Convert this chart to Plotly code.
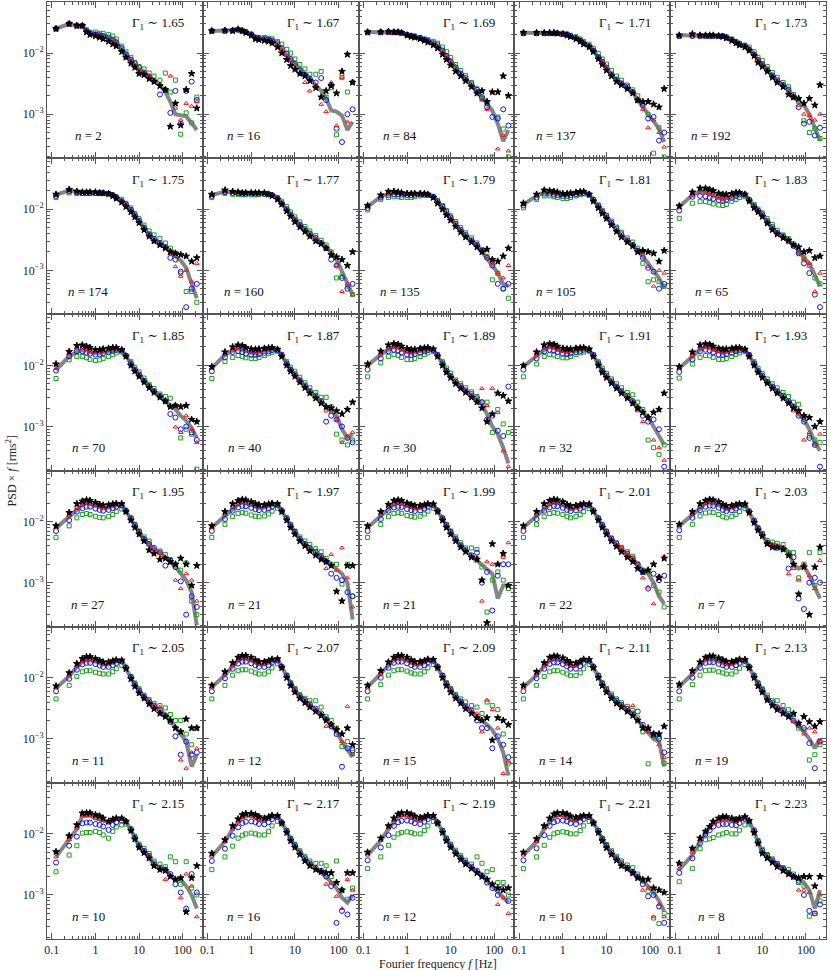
import numpy as np
import plotly.graph_objects as go
from plotly.subplots import make_subplots

# ---------------------------------------------------------------------------
# Data (PSD x f in units of 1e-3 rms^2), one row per panel, read left->right,
# top->bottom
# ---------------------------------------------------------------------------
FREQ = [0.125, 0.25, 0.375, 0.5, 0.625, 0.75, 1.0, 1.25, 1.5, 2.0, 2.5, 3.0, 4.0, 5.0,
        6.5, 8.0, 10, 13, 17, 22, 30, 40, 52, 68, 90, 120, 160, 210]

GAMMA = [1.65, 1.67, 1.69, 1.71, 1.73, 1.75, 1.77, 1.79, 1.81, 1.83,
         1.85, 1.87, 1.89, 1.91, 1.93, 1.95, 1.97, 1.99, 2.01, 2.03,
         2.05, 2.07, 2.09, 2.11, 2.13, 2.15, 2.17, 2.19, 2.21, 2.23]

N_OBS = [2, 16, 84, 137, 192, 174, 160, 135, 105, 65,
         70, 40, 30, 32, 27, 27, 21, 21, 22, 7,
         11, 12, 15, 14, 19, 10, 16, 12, 10, 8]

# grey line (average PSD)
GRAY = [
    [25, 30, 28, 28, 23, 21, 21, 20, 19, 18.5, 17, 15, 11.5, 9.2, 7.2, 6.3, 5.4, 4.7, 4.0, 3.5, 3.0, 2.3, 1.6, 1.0, 0.95, 0.92, 0.72, 0.55],
    [23, 23, 23.5, 24, 23, 22, 20, 17.6, 17, 17, 16.5, 16, 14, 11.5, 9.4, 7.6, 6.6, 5.6, 4.6, 3.8, 3.0, 2.4, 1.8, 1.15, 1.1, 0.95, 0.55, 0.75],
    [22, 22, 22, 22, 22, 21.5, 20, 19, 18.5, 17.5, 16.5, 15.5, 14, 13, 11, 9, 7.2, 5.6, 4.5, 3.8, 3.0, 2.4, 1.9, 1.5, 1.15, 0.7, 0.36, 0.55],
    [21.5, 21.5, 21.5, 21.5, 21.5, 21.5, 21, 20, 19, 17.5, 16, 14.5, 13, 11, 8.5, 7, 5.6, 4.4, 3.6, 3.1, 2.7, 2.3, 1.7, 1.3, 1.0, 0.78, 0.58, 0.35],
    [19.5, 19.5, 19.5, 19.5, 19.5, 19.5, 19.5, 19, 18, 16.5, 15, 14, 13, 11.5, 9.5, 7.5, 6.5, 5.3, 4.2, 3.5, 3.0, 2.5, 1.9, 1.6, 1.4, 1.0, 0.6, 0.37],
    [17.2, 20.3, 19.5, 19, 19, 19, 19, 19, 18.8, 18.3, 17, 15.5, 13.5, 11.8, 9.5, 7.8, 6.3, 4.8, 3.8, 3.2, 2.7, 2.4, 2.1, 1.7, 1.45, 1.1, 0.6, 0.35],
    [17, 19.5, 19, 18.8, 18.5, 18.5, 18.5, 18.5, 18.5, 18.5, 18, 17, 15, 12.5, 9.8, 8, 6.6, 5.5, 4.6, 3.9, 3.3, 2.8, 2.4, 2.0, 1.5, 0.95, 0.6, 0.4],
    [11, 16, 18, 18.5, 18.5, 18.3, 18, 18, 18, 18, 18, 17.5, 16, 13, 10.5, 8.5, 7, 5.5, 4.4, 3.6, 3.0, 2.5, 2.0, 1.6, 1.2, 0.9, 0.6, 0.55],
    [12, 16.5, 19, 19, 18.5, 18, 17.5, 17.5, 17.8, 18.3, 18.8, 19, 17.5, 14, 11, 9, 7.5, 5.8, 4.5, 3.7, 3.0, 2.6, 2.1, 1.7, 1.3, 1.0, 0.75, 0.5],
    [11, 17, 19.5, 19.5, 18, 17, 15.5, 15, 15.3, 16, 17, 18, 17.5, 14, 11, 9.2, 8, 6.2, 4.8, 4.1, 3.6, 3.0, 2.6, 2.1, 1.6, 1.3, 0.85, 0.55],
    [8.4, 14, 16.5, 17.8, 17.5, 16.5, 15.8, 16, 16.5, 17, 17.5, 18, 17.5, 14.5, 10.5, 8.3, 7.0, 5.5, 4.5, 3.7, 3.1, 2.6, 2.2, 1.9, 1.5, 1.25, 0.95, 0.65],
    [9, 14.8, 17.5, 18.5, 18, 17, 16, 15.8, 16.3, 17, 17.8, 18.3, 18, 14.5, 10.5, 8.3, 7.0, 5.6, 4.6, 3.7, 3.1, 2.6, 2.2, 1.8, 1.5, 0.9, 0.65, 0.75],
    [10, 15, 18, 20, 19.5, 18, 16.5, 16, 16.5, 17, 17.8, 18.3, 18, 14.5, 10.5, 8, 6.5, 5.2, 4.4, 3.8, 3.2, 2.6, 2.3, 1.6, 1.0, 0.75, 0.45, 0.25],
    [9.5, 14, 18, 20, 19.5, 18, 17, 16.5, 17, 17.5, 18, 18.5, 18, 14.5, 10.5, 8, 6.6, 5.3, 4.4, 3.7, 3.1, 2.6, 2.1, 1.7, 1.4, 1.0, 0.7, 0.5],
    [9, 14, 18, 20, 19.5, 18, 16.5, 16, 16.5, 17, 17.8, 18.3, 18, 14.5, 10.5, 8, 6.6, 5.3, 4.4, 3.7, 3.1, 2.6, 2.1, 1.6, 1.3, 0.9, 0.55, 0.4],
    [7.8, 12, 16, 18.5, 20, 19.5, 18, 17, 16.5, 17, 17.8, 18.5, 18.7, 15, 11, 8.5, 6.6, 5.0, 4.2, 3.6, 3.1, 2.6, 2.2, 1.8, 1.4, 1.1, 0.7, 0.2],
    [8, 12.5, 16.5, 19, 20.5, 20, 18.5, 17.5, 16.8, 17, 17.8, 18.7, 19, 15, 11, 8.5, 6.6, 5.0, 4.2, 3.6, 3.1, 2.7, 2.3, 2.0, 1.7, 1.4, 1.0, 0.25],
    [8, 12.5, 16.5, 19, 20, 19.5, 18, 17, 16.3, 16.5, 17.5, 18.5, 19, 15, 11, 8.5, 6.6, 5.0, 4.0, 3.3, 2.7, 2.3, 1.95, 1.6, 1.4, 0.55, 0.9, 0.9],
    [8, 12.5, 16.5, 19, 20.5, 20, 18.5, 17, 16, 16.5, 17.5, 18.5, 19, 15, 11, 8.5, 6.6, 5.0, 4.1, 3.4, 2.8, 2.4, 2.0, 1.6, 1.4, 1.0, 0.6, 0.45],
    [8.5, 13, 17, 19.5, 20.5, 20, 18.5, 17, 16, 16.5, 17.5, 18.5, 19, 14.5, 10, 7.5, 6.0, 4.5, 4.2, 4.0, 3.8, 3.2, 2.0, 1.7, 1.9, 1.3, 0.8, 0.55],
    [6.7, 10.6, 15, 18, 19.5, 19.5, 18.5, 17.5, 16.5, 16.5, 17.5, 18.5, 19, 14.5, 10, 7.6, 6.0, 4.8, 4.0, 3.4, 2.9, 2.5, 2.0, 1.6, 1.2, 0.9, 0.35, 0.55],
    [7, 11, 15.5, 19, 20.5, 20.5, 19, 17.5, 16.5, 16.5, 17.5, 19, 20, 15, 10.5, 7.8, 6.2, 4.9, 4.2, 3.6, 3.0, 2.5, 2.1, 1.7, 1.3, 0.9, 0.65, 0.5],
    [7, 11.5, 16, 19.5, 20.5, 20.5, 19, 17.5, 16.5, 16.5, 17.5, 19, 19.5, 15, 10.5, 7.8, 6.2, 4.9, 4.0, 3.3, 2.8, 2.3, 2.0, 1.7, 1.4, 1.0, 0.6, 0.25],
    [7, 11, 15.5, 19, 20, 20, 18.5, 17, 15.5, 15.5, 17, 19, 19.5, 15, 10.5, 7.8, 6.2, 4.9, 4.1, 3.5, 3.0, 2.5, 2.0, 1.6, 1.2, 1.0, 0.9, 0.35],
    [7.2, 11.5, 16, 19.5, 20, 20, 18.5, 17.5, 16.5, 16.5, 17.5, 19, 19.5, 15, 10.5, 7.7, 6.1, 4.5, 3.7, 3.2, 2.8, 2.4, 2.0, 1.6, 1.3, 1.0, 0.7, 1.0],
    [4.2, 8, 12, 19.5, 20, 20, 18, 17, 16.5, 15.5, 16.5, 17.5, 18, 16, 11.6, 8.5, 6.2, 5.1, 4.2, 3.1, 2.7, 2.6, 2.1, 1.8, 1.8, 1.4, 1.0, 0.6],
    [4.3, 7.5, 12, 16, 19, 20, 20, 18.5, 17, 16.5, 17.5, 19, 19.5, 15.5, 11, 8, 6.3, 4.8, 3.8, 3.2, 2.7, 2.4, 2.0, 1.6, 1.3, 0.9, 0.75, 1.0],
    [4.5, 7.8, 12, 16, 19, 20, 20, 18.5, 17, 16.5, 17.5, 19, 19.5, 15.5, 11, 8, 6.3, 4.9, 4.0, 3.3, 2.8, 2.4, 2.1, 1.7, 1.4, 1.1, 0.9, 0.75],
    [4.5, 7.5, 12, 16, 19, 20, 20, 18.5, 17, 16.5, 17.5, 19, 19.5, 15.5, 11, 8, 6.2, 4.8, 3.9, 3.2, 2.7, 2.3, 2.0, 1.7, 1.4, 1.1, 0.8, 0.55],
    [2.6, 4.5, 7.5, 10.5, 13, 15, 17, 17.5, 17.5, 16.5, 16, 17, 18, 16, 11, 7.2, 5.0, 4.2, 3.6, 3.1, 2.6, 2.3, 2.0, 1.8, 1.6, 1.2, 0.6, 1.2],
]

# black stars
BLACK = [
    [25, 30, 28, 28, 22, 20, 19, 18, 17, 15.5, 14, 13, 10.5, 8.5, 6.8, 5.8, 4.6, 4.4, 3.8, 3.4, 2.9, 2.5, 0.63, 1.5, 0.66, 2.5, 4.6, 1.25],
    [23, 23.5, 23, 24.5, 23, 21.5, 19.5, 17, 16.5, 16, 15.5, 14.5, 12.5, 10, 7.8, 6.2, 5.4, 4.6, 4.2, 3.5, 2.7, 1.9, 2.4, 2.9, 2.2, 5.0, 9.5, 3.3],
    [22, 22, 22.5, 22, 22, 21.5, 19.5, 18.5, 18, 17, 16, 15, 13.5, 12, 9.5, 7.8, 6.3, 5, 4.2, 3.5, 2.8, 2.2, 2.4, 1.6, 2.3, 2.3, 4.2, 2.0],
    [21.5, 21.5, 21.5, 21.5, 21.5, 21, 20.5, 19.5, 18.5, 17, 15.5, 14, 12.5, 10.5, 8, 6.5, 5.2, 4.2, 3.4, 3.0, 2.6, 2.2, 1.7, 1.6, 1.6, 1.45, 1.3, 2.6],
    [19.5, 20.5, 19.5, 19.5, 19.5, 19.5, 19, 18.5, 17.5, 16, 14.5, 13.5, 12.5, 11, 9, 7, 6, 5, 4, 3.3, 2.8, 2.1, 1.9, 1.8, 1.5, 1.8, 1.4, 3.0],
    [17.5, 21, 19.5, 19, 19, 19, 19, 18.5, 18.3, 17.8, 16.5, 15, 13, 11, 9, 7.4, 6, 4.6, 3.6, 3.0, 2.6, 2.3, 2.0, 1.9, 1.8, 1.7, 1.4, 1.6],
    [17.5, 20.5, 19.5, 19, 18.5, 18.5, 18.5, 18.5, 18.5, 18.5, 17.5, 16.5, 14.5, 12, 9.3, 7.6, 6.2, 5.1, 4.3, 3.6, 3.0, 2.7, 2.3, 1.8, 1.65, 1.5, 1.2, 2.0],
    [11.5, 17, 19.5, 19.5, 19, 18.5, 18, 18, 18, 18, 18, 17.5, 15.5, 12.5, 10, 8, 6.6, 5.2, 4.2, 3.5, 2.9, 2.4, 2.0, 2.2, 1.5, 1.4, 1.7, 2.3],
    [12.5, 17.5, 20.5, 20, 19.5, 19, 18, 18, 18.3, 18.8, 19.3, 19.5, 17.5, 13.5, 10.5, 8.5, 7, 5.5, 4.3, 3.5, 2.9, 2.5, 2.0, 2.1, 2.0, 1.9, 1.4, 2.1],
    [11.3, 19, 22, 22, 21, 20, 18.2, 17.5, 17.5, 18, 18.6, 18.8, 17.5, 13.5, 10.5, 9, 7.6, 5.9, 4.6, 3.9, 3.4, 3.1, 2.6, 2.4, 2.0, 2.1, 1.6, 1.7],
    [10.5, 16.8, 21, 21.5, 20.5, 19.5, 18, 18, 18.5, 19, 19.5, 19.5, 18, 14, 10, 8, 6.6, 5.3, 4.3, 3.6, 3.0, 2.6, 2.1, 2.2, 2.1, 2.2, 1.3, 1.2],
    [9.5, 16.5, 20, 21.5, 21, 19.5, 18.5, 18.3, 18.5, 19, 19.3, 19.5, 18.3, 14, 10, 8, 6.6, 5.3, 4.3, 3.5, 2.9, 2.4, 2.1, 2.0, 1.8, 1.6, 1.9, 2.5],
    [10.5, 17, 21.5, 22.5, 22, 20.5, 18.8, 18.2, 18.3, 18.8, 19.3, 19.5, 18.5, 14, 10, 7.7, 6.3, 5, 4.2, 3.6, 3.0, 2.5, 2.0, 1.2, 1.6, 3.5, 3.2, 2.6],
    [10, 16.5, 21.5, 22.5, 22, 20.5, 19, 18.5, 18.5, 19, 19.3, 19.5, 18.5, 14, 10, 7.7, 6.3, 5.1, 4.2, 3.5, 2.9, 2.4, 2.0, 1.7, 1.4, 1.7, 1.9, 3.5],
    [9.5, 16.5, 21.5, 22.5, 22, 20.5, 19, 18.3, 18.5, 19, 19.3, 19.5, 18.3, 14, 10, 7.7, 6.3, 5.1, 4.2, 3.5, 2.9, 2.4, 2.0, 1.8, 1.5, 1.4, 1.0, 1.2],
    [8.5, 14, 19.5, 21.5, 22.5, 22, 20.5, 19, 18.5, 18.7, 19.3, 19.7, 19.5, 14.5, 10.5, 8, 6.2, 4.8, 3.4, 3.0, 2.4, 2.5, 2.2, 2.0, 2.5, 2.0, 0.9, 1.9],
    [8.5, 14.5, 19.5, 22, 23, 22.5, 21, 19.5, 18.8, 18.8, 19.3, 19.8, 19.5, 14.5, 10.5, 8, 6.2, 4.8, 4.0, 3.3, 2.8, 2.4, 2.2, 1.9, 0.72, 0.5, 1.9, 1.9],
    [8.5, 14.5, 19, 22, 22.5, 22, 20, 19, 18.3, 18.3, 18.8, 19.5, 19.3, 14.5, 10.5, 8, 6.2, 4.8, 3.8, 3.2, 2.6, 2.4, 1.1, 0.22, 4.3, 2.0, 3.0, 0.9],
    [8.5, 14.5, 19.5, 22, 23, 22.5, 21, 19, 18, 18.3, 18.8, 19.5, 19.3, 14.5, 10.5, 8, 6.2, 4.8, 3.9, 3.2, 2.6, 2.2, 1.7, 1.5, 1.6, 2.0, 1.2, 2.5],
    [9, 14.5, 19.5, 22, 23, 22.5, 21, 19, 18, 18.3, 18.8, 19.5, 19.3, 14, 9.6, 7.2, 5.8, 4.3, 3.8, 3.8, 3.5, 2.8, 2.0, 0.65, 1.8, 0.3, 1.8, 3.8],
    [7.3, 12, 17, 20.5, 22, 22, 20.5, 19, 18, 18, 18.8, 19.5, 19.3, 14, 9.6, 7.2, 5.6, 4.6, 3.7, 3.1, 2.6, 2.3, 2.0, 1.5, 1.3, 2.1, 1.5, 1.5],
    [7.5, 12.5, 17.5, 21.5, 23, 23, 21.5, 19.5, 18.3, 18.3, 19, 20, 20.3, 14.5, 10, 7.4, 5.8, 4.6, 3.9, 3.3, 2.8, 2.4, 2.0, 1.7, 1.4, 1.2, 1.5, 0.8],
    [7.5, 13, 18, 21.5, 23, 23, 21.5, 19.5, 18.3, 18.3, 19, 20, 19.8, 14.5, 10, 7.4, 5.8, 4.6, 3.8, 3.1, 2.6, 2.2, 2.0, 2.2, 0.95, 2.2, 2.0, 1.7],
    [7.5, 12.5, 17.5, 21.5, 22.5, 22.5, 21, 19, 17.5, 17.3, 18.5, 20, 19.8, 14.5, 10, 7.4, 5.8, 4.6, 3.8, 3.3, 2.8, 2.4, 2.0, 1.5, 1.5, 1.2, 1.2, 1.6],
    [7.8, 13, 18, 21.5, 22.5, 22.5, 21, 19.5, 18.5, 18.3, 19, 20, 19.8, 14.5, 10, 7.3, 5.8, 4.3, 3.5, 3.0, 2.6, 2.3, 2.6, 1.8, 2.3, 1.9, 1.6, 1.9],
    [5.1, 9.3, 14, 21.8, 22, 22, 20.5, 19.5, 18, 16, 17.3, 18, 18, 16, 11.3, 8.2, 6.0, 4.9, 4.0, 3.0, 2.6, 2.5, 2.0, 1.8, 1.9, 0.53, 1.9, 3.0],
    [4.8, 8, 13.5, 17.5, 20.5, 21.5, 21.5, 20.5, 19, 18, 18.8, 20, 19.8, 15, 10.5, 7.7, 6.0, 4.6, 3.6, 3.0, 2.6, 2.4, 2.3, 2.3, 1.6, 1.2, 2.3, 2.3],
    [5, 8.5, 13.5, 18, 21, 22, 22, 21, 19.5, 18.5, 19, 20, 19.8, 15, 10.5, 7.7, 6.0, 4.7, 3.8, 3.2, 2.7, 2.3, 2.0, 1.8, 1.5, 1.3, 1.2, 1.3],
    [5, 8.3, 13.5, 18, 21, 22, 22, 21, 19.5, 18.5, 19, 20, 19.8, 15, 10.5, 7.7, 5.9, 4.6, 3.7, 3.0, 2.7, 2.3, 1.9, 1.8, 1.8, 1.3, 1.2, 1.1],
    [3.3, 5.8, 8.5, 11, 13.2, 16, 18, 19, 19, 18, 17, 18, 19, 16.5, 10.5, 7.0, 4.8, 4.0, 3.4, 2.9, 2.5, 2.2, 2.0, 1.9, 2.0, 2.0, 1.4, 2.0],
]

# red triangles
RED = [
    [25, 30, 28, 27, 23, 21, 20, 19, 18, 17, 16, 14.5, 11, 8.5, 7.5, 6.4, 5.2, 4.8, 4.3, 3.6, 3.1, 2.4, 4.2, 1.25, 0.8, 1.5, 1.35, 1.6],
    [23, 23, 23.5, 24, 23, 22, 20, 17, 17.5, 17, 16.5, 15.5, 14, 11.5, 9, 7.5, 6.4, 4.6, 3.3, 2.4, 3.0, 1.45, 1.1, 3.3, 0.65, 4.0, 0.75, 3.5],
    [22, 22, 22, 22, 22, 21.5, 20, 19, 18.5, 17.5, 16.5, 15.5, 14, 13, 10.5, 9, 7.2, 5.6, 4.4, 3.6, 2.9, 2.3, 1.7, 1.2, 2.3, 0.27, 0.45, 0.25],
    [21.5, 21.5, 21.5, 21.5, 21.5, 21.5, 21, 20, 19, 17.5, 16, 14.5, 13, 11, 8.5, 7.2, 5.7, 4.5, 3.7, 3.1, 2.6, 2.2, 1.6, 1.2, 0.6, 0.8, 0.5, 0.29],
    [19.5, 19.5, 19.5, 19.5, 19.5, 19.5, 19.5, 19, 18, 16.5, 15, 14, 13, 11.5, 9.5, 7.6, 6.5, 5.3, 4.2, 3.4, 2.9, 2.4, 1.8, 1.4, 1.0, 0.95, 0.8, 1.0],
    [17, 20, 19.5, 19, 19, 19, 19, 19, 18.8, 18.3, 17, 15.5, 13.5, 11.8, 9.5, 7.8, 6.3, 4.8, 3.7, 3.0, 2.6, 2.3, 1.9, 1.15, 0.8, 1.0, 0.65, 1.3],
    [17, 19.5, 19, 18.8, 18.5, 18.5, 18.5, 18.5, 18.5, 18.5, 18, 17, 15, 12.5, 9.8, 8, 6.6, 5.5, 4.6, 3.8, 3.2, 2.7, 2.3, 1.7, 1.2, 0.45, 0.6, 0.4],
    [11, 16, 18, 18.5, 18.3, 18, 17.8, 17.8, 17.8, 18, 18, 17.5, 16, 13, 10.5, 8.5, 7, 5.6, 4.5, 3.6, 3.0, 2.6, 2.1, 1.7, 1.3, 0.9, 0.75, 1.2],
    [12, 16.5, 19, 19, 18.5, 18, 17.5, 17.5, 17.8, 18.3, 18.8, 19, 17.5, 14, 11, 9, 7.5, 5.8, 4.6, 3.7, 3.0, 2.5, 2.0, 1.8, 1.15, 0.55, 1.0, 0.9],
    [10.5, 17, 18.5, 18.5, 17.5, 16.5, 15.1, 14.5, 15, 16, 17.5, 18.3, 17.5, 14, 11, 9.2, 8, 6.2, 4.9, 4.0, 3.5, 2.9, 2.5, 1.9, 1.5, 1.3, 0.45, 0.9],
    [8.9, 15.8, 19, 19, 18, 17, 16.3, 16.5, 17, 17.5, 18, 18.5, 17.8, 14.5, 10.5, 8.3, 7.0, 5.5, 4.5, 3.7, 3.1, 2.6, 2.1, 0.98, 0.8, 1.5, 0.9, 0.55],
    [9, 15, 18, 19.5, 19, 17.5, 16.5, 16.3, 16.8, 17.5, 18.3, 18.8, 18, 14.5, 10.5, 8.3, 7.0, 5.6, 4.6, 3.7, 3.0, 2.5, 1.8, 1.7, 1.3, 0.55, 0.7, 0.8],
    [10, 15.5, 19, 20, 19.5, 18, 16.8, 16.3, 16.8, 17.3, 18, 18.5, 18, 14.5, 10.5, 8, 6.5, 5.3, 4.5, 3.9, 3.3, 2.8, 4.2, 2.2, 4.2, 1.7, 0.4, 0.22],
    [9.5, 14.5, 19, 20, 19.5, 18, 17, 16.8, 17.2, 17.8, 18.3, 18.8, 18, 14.5, 10.5, 8, 6.6, 5.3, 4.4, 3.6, 3.0, 2.3, 1.8, 1.2, 1.5, 0.6, 0.45, 0.28],
    [9, 14.5, 19, 20, 19.5, 18, 16.8, 16.3, 16.8, 17.3, 18, 18.5, 18, 14.5, 10.5, 8, 6.6, 5.3, 4.4, 3.6, 3.0, 2.5, 1.8, 1.6, 0.6, 0.8, 0.5, 0.75],
    [8, 12.5, 17, 19.5, 20.5, 20, 18.5, 17.5, 17, 17.5, 18.3, 19, 19, 15, 11, 8.5, 6.6, 5.0, 4.2, 3.5, 3.0, 2.6, 2.1, 1.1, 0.8, 1.4, 1.1, 0.5],
    [8, 13, 17.5, 20, 21, 20.5, 19, 18, 17.5, 17.5, 18.3, 19, 19.3, 15, 11, 8.5, 6.6, 5.0, 4.1, 3.5, 2.9, 2.6, 1.7, 2.9, 1.6, 3.7, 1.2, 0.4],
    [8, 13, 17.5, 19.5, 20.5, 20, 18.5, 17.5, 16.8, 17, 18, 19, 19.2, 15, 11, 8.5, 6.6, 5.0, 4.0, 3.3, 2.6, 2.6, 0.5, 2.2, 2.0, 2.0, 2.6, 4.5],
    [8, 13, 17.5, 20, 21, 20.5, 19, 17.5, 16.5, 17, 18, 19, 19.2, 15, 11, 8.5, 6.6, 5.1, 4.2, 3.8, 3.0, 2.5, 2.0, 1.2, 0.85, 0.45, 1.3, 2.7],
    [8.5, 13.5, 17.5, 20, 21, 20.5, 19, 17.5, 16.5, 17, 18, 19, 19.2, 14.5, 10, 7.5, 6.0, 4.6, 4.3, 4.0, 3.8, 1.4, 1.7, 1.1, 2.0, 1.3, 0.8, 2.3],
    [7, 11, 15.5, 18.5, 20, 20, 19, 18, 17, 17, 18, 19, 19.2, 14.5, 10, 7.6, 6.0, 4.8, 4.0, 3.4, 3.3, 2.5, 2.0, 1.6, 0.45, 0.33, 0.6, 0.7],
    [7, 11.5, 16, 19.5, 21, 21, 19.5, 18, 17, 17, 18, 19.5, 20, 15, 10.5, 7.8, 6.2, 4.9, 4.2, 3.6, 3.0, 2.5, 1.6, 1.8, 1.5, 0.9, 3.4, 0.55],
    [7, 11.8, 16.5, 20, 21, 21, 19.5, 18, 17, 17, 18, 19.5, 19.7, 15, 10.5, 7.8, 6.2, 4.9, 4.1, 3.4, 2.8, 2.6, 1.3, 4.3, 3.0, 1.5, 0.27, 0.42],
    [7, 11.5, 16, 19.5, 20.5, 20.5, 19, 17.5, 16, 16, 17.5, 19.3, 19.7, 15, 10.5, 7.8, 6.2, 4.9, 4.1, 3.5, 3.2, 3.5, 2.0, 1.6, 1.3, 1.1, 0.8, 0.5],
    [7.2, 12, 16.5, 20, 20.5, 20.5, 19, 18, 17, 17, 18, 19.5, 19.7, 15, 10.5, 7.7, 6.1, 4.6, 3.8, 3.3, 2.8, 2.4, 1.9, 1.6, 1.2, 1.5, 1.3, 0.9],
    [4.2, 8, 12.4, 19.8, 20, 20, 18, 17.5, 16.5, 15, 16.5, 17.5, 17.5, 16, 11.6, 8.5, 6.2, 5.2, 4.3, 3.2, 2.7, 1.8, 2.1, 1.8, 0.9, 2.2, 1.4, 0.44],
    [4.3, 7.5, 12, 16, 18.5, 19.5, 19.5, 18.5, 17.3, 16.8, 17.8, 19.3, 19.7, 15.5, 11, 8, 6.3, 4.8, 3.8, 3.2, 2.7, 2.4, 1.5, 1.6, 0.95, 0.6, 1.8, 1.2],
    [4.5, 7.8, 12.5, 16.5, 19.5, 20, 20, 19, 17.5, 17, 18, 19.3, 19.7, 15.5, 11, 8, 6.3, 4.9, 4.0, 3.3, 2.8, 2.4, 2.0, 1.8, 1.5, 0.7, 0.9, 0.5],
    [4.5, 7.5, 12.5, 16.5, 19.5, 20, 20, 19, 17.5, 17, 18, 19.3, 19.7, 15.5, 11, 8, 6.2, 4.8, 3.9, 3.2, 2.7, 2.2, 1.9, 1.2, 1.3, 0.44, 0.7, 0.44],
    [2.7, 5.0, 8, 10.5, 12.5, 15, 16, 17, 17.5, 16.5, 16, 17, 18.5, 16.5, 11, 7.2, 5.1, 4.3, 3.6, 3.1, 2.6, 2.2, 1.9, 1.2, 1.2, 1.1, 0.48, 1.0],
]

# blue circles
BLUE = [
    [25, 30, 28, 28, 23, 21, 20, 19.5, 19, 18, 16.5, 15, 12, 9.5, 7.8, 6.8, 5.8, 4.8, 4.1, 3.5, 2.1, 2.5, 1.05, 2.4, 0.7, 2.4, 3.4, 1.7],
    [23, 23, 23.5, 24, 23, 22, 20, 18, 17.5, 17, 16.5, 16, 14.5, 12, 9.8, 8, 6.7, 5.2, 4.4, 3.8, 3.3, 3.9, 1.7, 3.0, 0.58, 0.35, 1.0, 1.2],
    [22, 22, 22, 22, 22, 21.5, 20, 19, 18.5, 17.5, 16.5, 16, 14.5, 13.5, 11, 9, 7.3, 5.8, 4.6, 3.9, 3.1, 2.5, 1.9, 1.3, 0.9, 0.85, 1.2, 0.65],
    [21, 21, 21, 21, 21, 21, 20.5, 20, 19, 17.5, 16, 14.5, 13, 11, 8.6, 7.2, 5.8, 4.5, 3.7, 3.2, 2.8, 2.3, 1.7, 1.4, 0.85, 0.9, 0.37, 0.5],
    [19, 19, 19, 19, 19, 19, 19, 19, 18, 16.5, 15, 14, 13, 11.5, 9.5, 7.7, 6.6, 5.4, 4.3, 3.6, 3.0, 2.5, 1.9, 1.3, 0.7, 0.75, 0.45, 0.6],
    [16.5, 19.5, 19, 18.5, 18.5, 18.5, 18.5, 18.5, 18.5, 18, 17, 15.5, 13.5, 12, 9.8, 8, 6.5, 5, 3.9, 3.3, 2.8, 2.4, 1.6, 1.5, 0.95, 0.25, 0.5, 0.6],
    [16.5, 19, 18.5, 18.3, 18, 18, 18, 18, 18, 18, 17.5, 17, 15, 12.5, 10, 8.2, 6.8, 5.6, 4.7, 4.0, 3.4, 2.8, 2.3, 1.5, 1.2, 0.75, 0.5, 0.6],
    [10.5, 15.5, 17, 17.5, 17.5, 17.3, 17, 17, 17.3, 17.5, 17.5, 17.2, 16, 13.5, 11, 9, 7.3, 5.8, 4.6, 3.8, 3.1, 2.6, 2.1, 1.6, 1.2, 0.6, 0.5, 0.6],
    [11.5, 15.5, 18, 18, 17.3, 17, 16.5, 16.5, 17, 17.5, 18.3, 18.5, 17.5, 14.3, 11.3, 9.2, 7.7, 6, 4.8, 3.9, 3.1, 2.6, 2.1, 1.6, 1.1, 0.95, 0.5, 0.6],
    [9.5, 16, 16.5, 16.2, 15.5, 14.8, 14.1, 13.8, 14.3, 15.3, 16.5, 17.5, 17.3, 14.3, 11.3, 9.5, 8.2, 6.4, 5.1, 4.1, 3.6, 3.0, 2.5, 1.9, 1.3, 0.9, 0.4, 0.25],
    [8.2, 14.1, 17, 17, 16.2, 15.5, 15, 15.2, 15.8, 16.5, 17.2, 17.8, 17.5, 14.5, 10.8, 8.5, 7.1, 5.6, 4.6, 3.8, 3.2, 2.6, 1.6, 1.4, 0.9, 1.0, 0.8, 0.6],
    [8, 13.5, 16.5, 17.2, 16.5, 15.5, 14.8, 14.8, 15.3, 16, 17, 17.8, 17.8, 14.8, 10.8, 8.5, 7.2, 5.7, 4.7, 3.8, 3.2, 2.6, 1.2, 1.5, 1.3, 1.0, 0.65, 0.55],
    [8.5, 13, 17, 18, 17.5, 16.3, 15, 14.8, 15.3, 16, 17, 17.8, 17.8, 14.8, 10.8, 8.2, 6.7, 5.4, 4.6, 3.9, 3.4, 2.9, 2.5, 1.3, 1.5, 0.85, 0.7, 4.5],
    [8.5, 13, 17, 18, 17.5, 16.5, 15.5, 15.3, 15.8, 16.5, 17.2, 18, 17.8, 14.8, 10.8, 8.2, 6.8, 5.5, 4.5, 3.8, 3.2, 2.6, 2.0, 1.5, 1.2, 1.3, 0.9, 0.22],
    [7.8, 12.5, 17, 18, 17.5, 16.3, 15, 14.8, 15.3, 16, 17, 17.8, 17.8, 14.8, 10.8, 8.2, 6.8, 5.4, 4.5, 3.8, 3.2, 2.6, 2.1, 1.5, 1.2, 0.65, 0.5, 0.22],
    [7, 10.5, 14.5, 16.5, 17.5, 17.5, 16.3, 15.5, 15, 15.5, 16.5, 17.5, 18.3, 15.2, 11.3, 8.7, 6.8, 5.2, 4.3, 3.7, 3.1, 1.9, 2.3, 1.8, 1.05, 0.3, 0.6, 0.4],
    [7, 11, 15, 17, 18, 17.8, 16.7, 15.8, 15.3, 15.5, 16.5, 17.5, 18.5, 15.3, 11.3, 8.7, 6.8, 5.2, 4.3, 3.7, 3.2, 2.7, 2.2, 1.4, 1.2, 1.1, 0.7, 0.6],
    [7, 11, 15, 17, 17.5, 17.3, 16, 15.3, 14.8, 15.2, 16.3, 17.5, 18.5, 15.3, 11.3, 8.7, 6.8, 5.2, 4.1, 3.4, 2.8, 3.1, 1.0, 1.5, 0.35, 1.3, 2.0, 2.0],
    [7, 11, 15, 17, 18, 17.8, 16.7, 15.5, 14.8, 15.3, 16.3, 17.5, 18.5, 15.3, 11.3, 8.7, 6.8, 5.2, 4.3, 3.6, 3.0, 2.5, 2.0, 1.5, 0.8, 1.4, 1.1, 1.3],
    [7.2, 11.5, 15.3, 17.5, 18.2, 18, 16.8, 15.5, 14.8, 15.3, 16.3, 17.5, 18.5, 14.8, 10.3, 7.7, 6.2, 4.5, 4.0, 3.7, 3.6, 1.7, 2.6, 0.55, 0.37, 1.0, 1.2, 1.0],
    [6, 9.6, 13.5, 16.5, 17.5, 17.5, 16.7, 15.8, 15, 15, 16, 17.3, 18.5, 14.8, 10.3, 7.8, 6.2, 4.9, 4.1, 3.5, 3.0, 2.4, 1.9, 1.1, 0.55, 0.9, 0.55, 0.6],
    [6, 9.8, 14, 17, 18.3, 18.3, 17.2, 16, 15, 15, 16, 17.8, 19.2, 15.3, 10.8, 8, 6.4, 5.0, 4.3, 3.7, 3.1, 2.6, 2.1, 1.6, 1.2, 0.35, 0.7, 0.65],
    [6, 10, 14.5, 17.5, 18.3, 18.3, 17.2, 16, 15, 15, 16, 17.8, 18.8, 15.3, 10.8, 8, 6.4, 5.0, 4.1, 3.4, 2.9, 2.0, 1.5, 1.5, 0.7, 1.1, 0.8, 0.5],
    [6, 9.8, 14, 16.8, 17.8, 17.8, 16.7, 15.3, 14, 14, 15.5, 17.5, 18.8, 15.3, 10.8, 8, 6.4, 5.0, 4.2, 3.6, 3.1, 2.6, 2.8, 1.7, 1.4, 1.2, 1.0, 0.6],
    [6, 10, 14.5, 17.5, 18, 18, 16.8, 16, 15, 15, 16, 17.5, 18.8, 15.3, 10.8, 8, 6.3, 4.7, 3.9, 3.3, 2.9, 2.4, 2.0, 1.7, 1.5, 0.85, 0.33, 0.9],
    [3.4, 6.4, 9, 14.9, 15.3, 15.3, 14.5, 14, 13.2, 11.6, 14, 15.5, 16.5, 16, 11.8, 8.7, 6.4, 5.3, 4.4, 3.3, 2.8, 2.6, 2.2, 1.5, 1.1, 0.6, 2.2, 1.1],
    [3.6, 5.7, 9.3, 12.8, 15, 15.8, 16, 15.5, 14.5, 14.3, 15.5, 17.5, 18.8, 15.5, 11.3, 8.3, 6.5, 5.0, 4.0, 3.3, 2.8, 2.5, 2.0, 1.4, 0.35, 0.55, 0.48, 0.9],
    [3.7, 6, 9.5, 13.5, 15.5, 16.3, 16.5, 16, 15, 14.5, 15.8, 17.5, 18.8, 15.5, 11.3, 8.3, 6.5, 5.0, 4.1, 3.4, 2.9, 2.5, 2.1, 1.6, 1.3, 1.0, 1.3, 0.8],
    [3.7, 5.8, 9.5, 13.5, 15.5, 16.3, 16.5, 16, 15, 14.5, 15.8, 17.5, 18.8, 15.5, 11.3, 8.3, 6.4, 5.0, 4.0, 3.3, 2.8, 2.4, 2.0, 1.5, 0.95, 1.0, 0.65, 0.35],
    [2.3, 4.0, 7, 9.9, 11.5, 13.2, 14, 14.5, 14.5, 14, 13.8, 15, 17.5, 16, 11.3, 7.5, 5.3, 4.4, 3.7, 3.2, 2.7, 2.3, 2.0, 1.7, 1.0, 0.55, 0.5, 0.7],
]

# green squares
GREEN = [
    [25, 30, 28, 28, 24, 22, 22, 21, 21, 20, 19, 17, 13, 10.5, 8.5, 7.0, 6.0, 5.5, 4.7, 4.2, 3.6, 4.7, 2.3, 3.6, 0.47, 1.05, 0.72, 1.9],
    [23, 23, 23.5, 24, 23.5, 22.5, 20.5, 18, 18, 18, 17.5, 17, 15.5, 14, 11.5, 10, 8, 6.5, 5.5, 4.5, 4.5, 5.0, 1.9, 2.7, 0.46, 4.0, 2.3, 3.3],
    [21.5, 21.5, 22, 21.5, 21.5, 21, 20, 19.5, 19, 18, 17, 16.5, 15.5, 14.5, 12.5, 10.5, 8.5, 6.5, 5.2, 4.3, 3.3, 2.6, 1.8, 1.5, 0.2, 0.9, 0.57, 0.2],
    [21, 21, 21, 21, 21, 21, 21, 20.5, 19.5, 18.5, 17, 15.5, 14, 12, 9.8, 8, 6.6, 5.2, 4.2, 3.6, 3.0, 2.5, 2.0, 1.5, 1.0, 0.23, 0.6, 0.2],
    [19, 19, 19, 19, 19, 19, 19, 19, 18.5, 17, 15.5, 14.5, 13.5, 12.5, 10.5, 8.5, 7.5, 6, 4.8, 4.0, 3.3, 2.8, 2.1, 1.6, 0.78, 0.5, 0.58, 0.4],
    [15.5, 18.5, 18, 18, 18, 18, 18, 18, 18, 18, 17, 16, 14.5, 12.5, 10.5, 8.5, 7, 5.5, 4.4, 3.8, 3.3, 2.8, 2.3, 1.9, 0.9, 0.45, 0.45, 0.3],
    [15.5, 18, 17.5, 17.5, 17.2, 17.2, 17.2, 17.2, 17.5, 17.5, 17.5, 17, 15.5, 13.5, 11, 9, 7.5, 6.2, 5.2, 4.4, 3.7, 3.1, 2.6, 2.0, 0.75, 0.8, 0.55, 0.4],
    [9.7, 14.5, 15.5, 16, 16, 15.5, 15.5, 15.5, 16, 16.5, 17, 17, 16, 14, 11.5, 9.5, 7.8, 6.3, 5, 4.1, 3.4, 2.8, 2.2, 1.7, 0.7, 0.9, 0.5, 0.35],
    [10.5, 14.5, 16.5, 16.5, 16, 15.5, 15, 15, 15.5, 16.5, 17.3, 17.8, 17, 14.5, 11.8, 9.6, 8, 6.4, 5.1, 4.2, 3.4, 2.9, 2.3, 1.3, 0.65, 0.7, 0.65, 0.55],
    [7.1, 12.5, 13.3, 13.3, 12.8, 12.2, 11.7, 11.5, 12, 13.5, 14.5, 15.5, 16, 14.5, 12, 10, 8.7, 7, 5.6, 4.5, 3.8, 3.3, 2.7, 2.0, 1.6, 1.2, 0.75, 0.6],
    [6.1, 12.3, 14, 14, 13.3, 12.5, 12, 12.3, 13, 14, 15, 16, 16.5, 14.5, 11.5, 9.2, 7.8, 6.2, 4.9, 4.2, 3.4, 3.1, 2.9, 2.2, 0.65, 0.9, 0.75, 0.2],
    [6.1, 11.5, 13.5, 14.5, 14, 13.3, 13, 13, 13.5, 14.5, 15.5, 16.3, 17, 15, 11.5, 9.3, 8, 6.4, 5.2, 4.3, 3.6, 3.0, 3.0, 2.1, 0.75, 0.6, 0.5, 0.6],
    [6.5, 11, 14, 15, 14.5, 13.5, 12.5, 12.5, 13, 14, 15, 16, 16.8, 15, 11.5, 9, 7.5, 5.8, 5.0, 4.3, 3.7, 3.1, 2.5, 2.5, 0.8, 1.9, 1.1, 0.8],
    [6.5, 10.5, 14, 15, 14.8, 14, 13.3, 13.3, 14, 15, 16, 16.5, 17, 15, 11.5, 9, 7.4, 6, 5.0, 4.3, 3.6, 3.3, 2.5, 1.9, 0.6, 0.45, 0.35, 0.5],
    [6.2, 10.5, 13.5, 14.5, 14.3, 13.5, 12.5, 12.5, 13, 14, 15, 16, 16.8, 15, 11.5, 9, 7.4, 6, 5.0, 4.3, 3.6, 3.1, 2.5, 2.3, 1.3, 0.7, 0.6, 0.55],
    [5.5, 8.5, 11.5, 13, 13.5, 13, 12.2, 11.7, 11.5, 12, 13, 14.5, 16, 14.5, 11.5, 9, 7, 5.6, 4.8, 3.1, 3.3, 2.9, 2.4, 2.0, 1.6, 2.1, 0.5, 0.3],
    [5.5, 9, 12, 13.5, 14, 13.7, 12.8, 12.2, 12, 12.3, 13.3, 14.8, 16.5, 14.8, 11.5, 9, 7, 5.6, 4.8, 4.2, 3.6, 3.2, 2.5, 2.0, 2.0, 0.95, 2.0, 0.6],
    [5.5, 9, 12, 13.5, 14, 13.6, 12.5, 12, 11.8, 12.2, 13.3, 14.8, 16.5, 14.8, 11.5, 9, 7, 5.6, 4.5, 3.7, 3.7, 3.5, 1.8, 0.33, 1.1, 1.5, 1.1, 0.8],
    [5.5, 9, 12, 13.5, 14, 13.7, 13, 12, 11.5, 12, 13, 14.5, 16.3, 14.8, 11.5, 9, 7, 5.4, 4.5, 3.8, 3.2, 2.7, 2.0, 1.6, 1.5, 0.9, 0.7, 0.4],
    [5.5, 9, 12.3, 13.8, 14.3, 14, 13, 12, 11.5, 12, 13, 14.5, 16.3, 14.5, 10.5, 8, 6.4, 4.9, 4.6, 4.4, 4.2, 3.1, 3.1, 1.2, 2.0, 3.1, 0.9, 3.1],
    [4.5, 7.5, 10.5, 12.5, 13, 13, 12.3, 11.8, 11.5, 11.5, 12.5, 14, 16, 14.5, 10.5, 8.2, 6.6, 5.2, 4.4, 3.8, 3.5, 3.2, 2.5, 2.0, 2.0, 1.2, 0.8, 1.5],
    [4.5, 7.5, 11, 13, 13.5, 13.5, 12.8, 12, 11.5, 11.5, 12.5, 14.5, 17, 15, 11, 8.3, 6.7, 5.3, 4.6, 4.2, 4.2, 3.3, 2.3, 2.0, 1.5, 0.75, 0.9, 0.6],
    [4.5, 7.7, 11, 13, 13.5, 13.5, 12.8, 12, 11.5, 11.5, 12.5, 14.5, 16.5, 15, 11, 8.3, 6.7, 5.3, 4.5, 4.0, 3.5, 3.3, 2.6, 4.0, 3.5, 3.0, 1.2, 0.4],
    [4.5, 7.5, 10.5, 12.5, 13, 13, 12.3, 11.5, 10.8, 10.8, 12, 14, 16.5, 15, 11, 8.3, 6.7, 5.4, 4.5, 3.9, 3.4, 2.9, 2.2, 1.3, 0.39, 1.1, 1.1, 0.4],
    [4.5, 7.7, 11, 13, 13.3, 13.3, 12.5, 12, 11.5, 11.5, 12.5, 14.3, 16.5, 15, 11, 8.3, 6.6, 5.2, 4.2, 4.2, 3.5, 3.0, 2.5, 1.5, 1.4, 0.45, 0.55, 0.8],
    [2.4, 4.5, 6.4, 10.3, 10.5, 10.5, 11, 10.5, 9.6, 8.5, 11, 13, 14, 14.5, 12.2, 9.2, 6.8, 5.8, 4.8, 3.6, 3.2, 2.9, 4.2, 3.5, 1.5, 3.5, 1.3, 1.0],
    [2.6, 4.2, 6.3, 8.5, 9.5, 10, 10.3, 10, 9.6, 9.6, 11, 13.5, 16, 14.5, 11.3, 8.5, 6.8, 5.3, 4.3, 3.6, 3.3, 3.3, 3.0, 2.0, 3.6, 1.2, 0.85, 1.3],
    [2.7, 4.2, 6.5, 8.8, 10, 10.5, 10.8, 10.5, 10, 10, 11.3, 13.5, 16, 14.5, 11.3, 8.5, 6.8, 5.4, 4.4, 3.7, 3.2, 4.2, 3.3, 2.4, 2.6, 1.6, 1.6, 1.0],
    [2.7, 4.2, 6.5, 8.8, 10, 10.5, 10.8, 10.5, 10, 10, 11.3, 13.5, 16, 14.5, 11.3, 8.5, 6.7, 5.3, 4.3, 3.6, 3.1, 2.8, 2.2, 1.7, 1.15, 0.42, 0.34, 0.5],
    [1.65, 2.7, 5.7, 8, 8.3, 8.7, 9.6, 10, 10.5, 10, 10, 11.5, 14, 14.5, 11.5, 7.8, 5.6, 4.6, 3.9, 3.3, 2.8, 2.6, 2.2, 1.6, 1.4, 0.45, 0.5, 0.8],
]

for name, tbl in [("GRAY", GRAY), ("BLACK", BLACK), ("RED", RED), ("BLUE", BLUE), ("GREEN", GREEN)]:
    for i, row in enumerate(tbl):
        assert len(row) == len(FREQ), (name, i, len(row))

# ---------------------------------------------------------------------------
# Styling
# ---------------------------------------------------------------------------
FONT = "Liberation Serif, DejaVu Serif, serif"
AXIS_COLOR = "#555555"
COLOR_MEAN = "#858585"

MARKERS = [
    # table, symbol, colour, size
    (GREEN, "square-open", "#1aa01a", 4),
    (BLUE, "circle-open", "#1010ff", 5),
    (RED, "triangle-up-open", "#ff1010", 4),
    (BLACK, "star", "#000000", 5),
]

NROWS, NCOLS = 6, 5
XRANGE = [-1.11, 2.46]
YRANGE = [-3.72, -1.165]

fig = make_subplots(rows=NROWS, cols=NCOLS, horizontal_spacing=0, vertical_spacing=0)

for k in range(NROWS * NCOLS):
    r, c = k // NCOLS + 1, k % NCOLS + 1

    fig.add_trace(
        go.Scatter(
            x=FREQ, y=np.array(GRAY[k]) * 1e-3,
            mode="lines",
            line=dict(color=COLOR_MEAN, width=4),
            showlegend=False, hoverinfo="skip",
        ),
        row=r, col=c,
    )
    for tbl, sym, col, size in MARKERS:
        fig.add_trace(
            go.Scatter(
                x=FREQ, y=np.array(tbl[k]) * 1e-3,
                mode="markers",
                marker=dict(symbol=sym, color=col, size=size, line=dict(color=col, width=1)),
                showlegend=False,
            ),
            row=r, col=c,
        )

    ax = "" if k == 0 else str(k + 1)
    fig.add_annotation(
        text=f"Γ<sub>1</sub> ∼ {GAMMA[k]:.2f}",
        xref=f"x{ax} domain", yref=f"y{ax} domain",
        x=0.71, y=0.86, xanchor="center", yanchor="middle",
        showarrow=False, font=dict(family=FONT, size=13, color="#111"),
    )
    fig.add_annotation(
        text=f"<i>n</i> = {N_OBS[k]}",
        xref=f"x{ax} domain", yref=f"y{ax} domain",
        x=0.265, y=0.145, xanchor="center", yanchor="middle",
        showarrow=False, font=dict(family=FONT, size=13, color="#111"),
    )

x_minor = [v * 10.0 ** e for e in (-1, 0, 1, 2) for v in range(2, 10) if v * 10.0 ** e < 290]
y_minor = [v * 10.0 ** e for e in (-4, -3, -2) for v in range(2, 10) if 1.9e-4 < v * 10.0 ** e < 0.068]

fig.update_xaxes(
    type="log", range=XRANGE,
    tickmode="array", tickvals=[0.1, 1, 10, 100], ticktext=["0.1", "1", "10", "100"],
    ticks="inside", ticklen=6, tickcolor=AXIS_COLOR, mirror="allticks",
    minor=dict(tickmode="array", tickvals=x_minor, ticks="inside", ticklen=3, tickcolor=AXIS_COLOR),
    showline=True, linecolor=AXIS_COLOR, linewidth=1,
    showgrid=False, zeroline=False, showticklabels=False,
    tickfont=dict(family=FONT, size=12, color="#222"),
)
fig.update_yaxes(
    type="log", range=YRANGE,
    tickmode="array", tickvals=[1e-3, 1e-2], ticktext=["10<sup>−3</sup>", "10<sup>−2</sup>"],
    ticks="inside", ticklen=6, tickcolor=AXIS_COLOR, mirror="allticks",
    minor=dict(tickmode="array", tickvals=y_minor, ticks="inside", ticklen=3, tickcolor=AXIS_COLOR),
    showline=True, linecolor=AXIS_COLOR, linewidth=1,
    showgrid=False, zeroline=False, showticklabels=False,
    tickfont=dict(family=FONT, size=12, color="#222"),
)
for c in range(1, NCOLS + 1):
    fig.update_xaxes(showticklabels=True, row=NROWS, col=c)
for r in range(1, NROWS + 1):
    fig.update_yaxes(showticklabels=True, row=r, col=1)

fig.add_annotation(
    text="Fourier frequency <i>f</i> [Hz]", xref="paper", yref="paper",
    x=0.502, y=-0.0265, xanchor="center", yanchor="middle", showarrow=False,
    font=dict(family=FONT, size=12, color="#222"),
)
fig.add_annotation(
    text="PSD × <i>f</i> [rms<sup>2</sup>]", xref="paper", yref="paper",
    x=-0.045, y=0.5, xanchor="center", yanchor="middle", textangle=-90, showarrow=False,
    font=dict(family=FONT, size=12, color="#222"),
)

fig.update_layout(
    width=830, height=970,
    paper_bgcolor="white", plot_bgcolor="white",
    margin=dict(l=47, r=4, t=2, b=31),
    showlegend=False,
)

# drop the browser's default body margin so the figure sits at the page corner
fig.write_html(
    "out.html",
    config={"displayModeBar": False},
    post_script="document.body.style.margin = '0px';",
)
